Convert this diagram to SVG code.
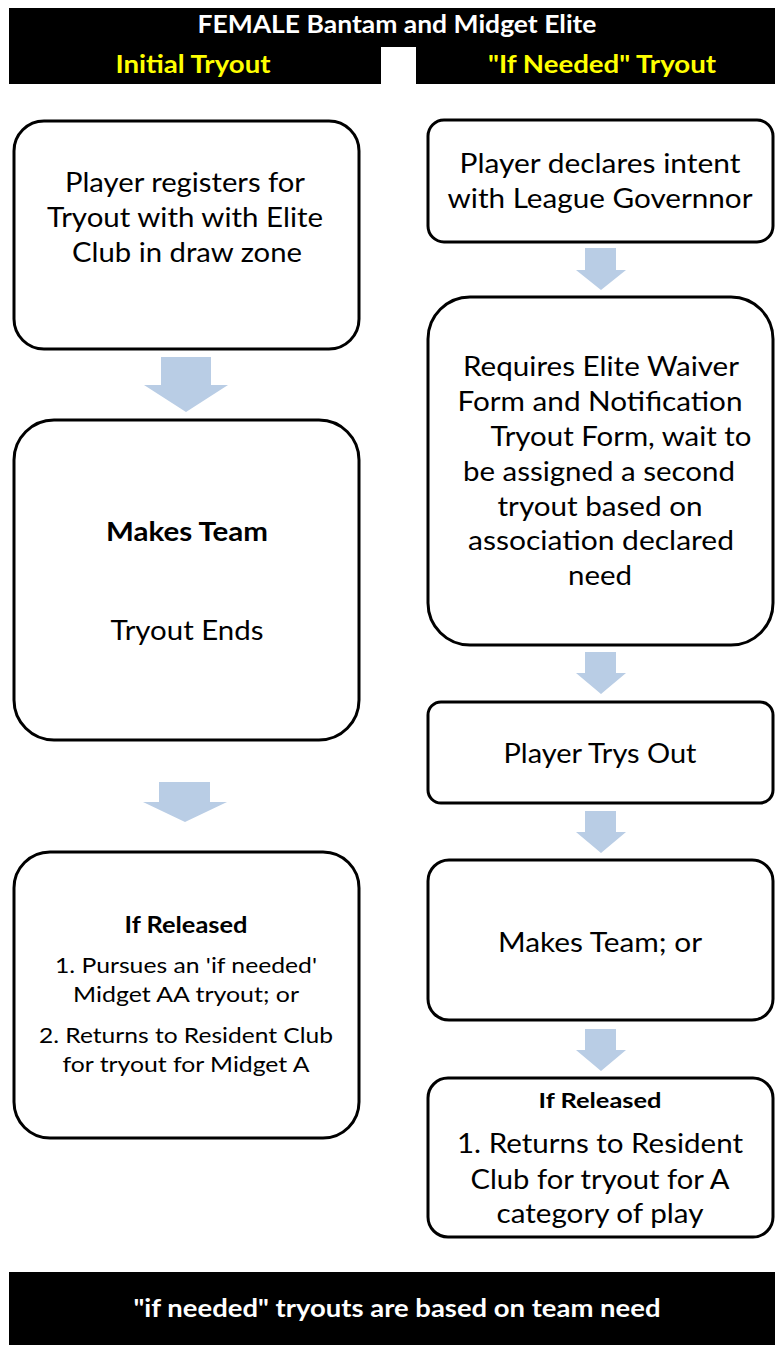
<svg xmlns="http://www.w3.org/2000/svg" width="775" height="1345" viewBox="0 0 775 1345">
<style>
.bar{fill:#000}
.box{fill:#fff;stroke:#000;stroke-width:3}
.arr{fill:#B9CDE5}
text{font-family:Lato,"Liberation Sans",sans-serif;text-anchor:middle;fill:#000}
.hd{font-weight:bold;font-size:24px;fill:#fff}
.yl{font-weight:bold;font-size:24px;fill:#FFFF00}
.b27{font-size:27px}
.b22{font-size:22px}
.bold{font-weight:bold}
</style>
<rect width="775" height="1345" fill="#fff"/>
<g id="header">
<rect class="bar" x="9" y="8" width="766" height="76"/>
<rect x="381" y="47" width="35" height="37" fill="#fff"/>
<text class="hd" x="397" y="33" textLength="399" lengthAdjust="spacingAndGlyphs">FEMALE Bantam and Midget Elite</text>
<text class="yl" x="193" y="73" textLength="155" lengthAdjust="spacingAndGlyphs">Initial Tryout</text>
<text class="yl" x="602" y="73" textLength="228" lengthAdjust="spacingAndGlyphs">"If Needed" Tryout</text>
</g>
<g id="connectors">
<path class="arr" d="M161,357 H211 V385 H228 L186,412 L144,385 H161 Z"/>
<path class="arr" d="M159,782 H210 V802 H227 L185,822 L143,802 H159 Z"/>
<path class="arr" d="M585,248 H616 V270 H626 L601,290 L576,270 H585 Z"/>
<path class="arr" d="M585,652 H616 V673 H626 L601,694 L576,673 H585 Z"/>
<path class="arr" d="M585,811 H616 V832 H626 L601,853 L576,832 H585 Z"/>
<path class="arr" d="M585,1029 H616 V1050 H626 L601,1071 L576,1050 H585 Z"/>
</g>
<g id="node-register">
<rect class="box" x="14" y="121" width="345" height="228" rx="30"/>
<text class="b27" x="185" y="192" textLength="240" lengthAdjust="spacingAndGlyphs">Player registers for</text>
<text class="b27" x="185" y="227" textLength="276" lengthAdjust="spacingAndGlyphs">Tryout with with Elite</text>
<text class="b27" x="187" y="262" textLength="230" lengthAdjust="spacingAndGlyphs">Club in draw zone</text>
</g>
<g id="node-makes-team">
<rect class="box" x="14" y="420" width="345" height="320" rx="40"/>
<text class="b27 bold" x="187" y="541" textLength="162" lengthAdjust="spacingAndGlyphs">Makes Team</text>
<text class="b27" x="187" y="640" textLength="153" lengthAdjust="spacingAndGlyphs">Tryout Ends</text>
</g>
<g id="node-released-left">
<rect class="box" x="14" y="852" width="345" height="286" rx="36"/>
<text class="b22 bold" x="186" y="933" textLength="123" lengthAdjust="spacingAndGlyphs">If Released</text>
<text class="b22" x="186" y="973" textLength="262" lengthAdjust="spacingAndGlyphs">1. Pursues an 'if needed'</text>
<text class="b22" x="186" y="1002" textLength="226" lengthAdjust="spacingAndGlyphs">Midget AA tryout; or</text>
<text class="b22" x="186" y="1043" textLength="294" lengthAdjust="spacingAndGlyphs">2. Returns to Resident Club</text>
<text class="b22" x="186" y="1072" textLength="247" lengthAdjust="spacingAndGlyphs">for tryout for Midget A</text>
</g>
<g id="node-declare">
<rect class="box" x="428" y="120" width="345" height="122" rx="16"/>
<text class="b27" x="600" y="173" textLength="281" lengthAdjust="spacingAndGlyphs">Player declares intent</text>
<text class="b27" x="600" y="208" textLength="305" lengthAdjust="spacingAndGlyphs">with League Governnor</text>
</g>
<g id="node-requires">
<rect class="box" x="428" y="297" width="345" height="348" rx="42"/>
<text class="b27" x="601" y="376" textLength="276" lengthAdjust="spacingAndGlyphs">Requires Elite Waiver</text>
<text class="b27" x="600" y="411" textLength="285" lengthAdjust="spacingAndGlyphs">Form and Notification</text>
<text class="b27" x="621" y="446" textLength="261" lengthAdjust="spacingAndGlyphs">Tryout Form, wait to</text>
<text class="b27" x="599" y="481" textLength="272" lengthAdjust="spacingAndGlyphs">be assigned a second</text>
<text class="b27" x="600" y="516" textLength="205" lengthAdjust="spacingAndGlyphs">tryout based on</text>
<text class="b27" x="601" y="550" textLength="266" lengthAdjust="spacingAndGlyphs">association declared</text>
<text class="b27" x="600" y="585" textLength="64" lengthAdjust="spacingAndGlyphs">need</text>
</g>
<g id="node-trys-out">
<rect class="box" x="428" y="702" width="345" height="101" rx="13"/>
<text class="b27" x="600" y="763" textLength="193" lengthAdjust="spacingAndGlyphs">Player Trys Out</text>
</g>
<g id="node-makes-team-or">
<rect class="box" x="428" y="860" width="345" height="160" rx="21"/>
<text class="b27" x="600" y="952" textLength="204" lengthAdjust="spacingAndGlyphs">Makes Team; or</text>
</g>
<g id="node-released-right">
<rect class="box" x="428" y="1078" width="345" height="159" rx="20"/>
<text class="bold" font-size="20" x="600" y="1108" textLength="123" lengthAdjust="spacingAndGlyphs">If Released</text>
<text class="b27" x="600" y="1153" textLength="286" lengthAdjust="spacingAndGlyphs">1. Returns to Resident</text>
<text class="b27" x="600" y="1189" textLength="259" lengthAdjust="spacingAndGlyphs">Club for tryout for A</text>
<text class="b27" x="600" y="1223" textLength="207" lengthAdjust="spacingAndGlyphs">category of play</text>
</g>
<g id="footer">
<rect class="bar" x="9" y="1272" width="766" height="73"/>
<text class="hd" x="397" y="1317" textLength="527" lengthAdjust="spacingAndGlyphs">"if needed" tryouts are based on team need</text>
</g>
</svg>
